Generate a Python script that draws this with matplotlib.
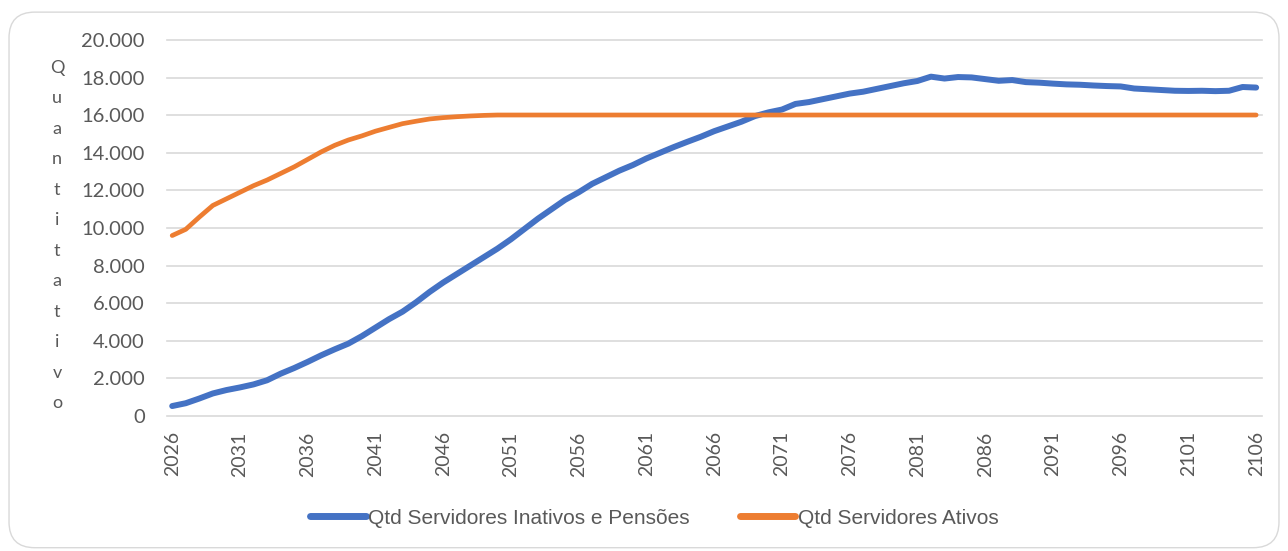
import matplotlib
matplotlib.use("Agg")
import matplotlib.pyplot as plt
from matplotlib.patches import FancyBboxPatch
import numpy as np

years = list(range(2026, 2107))

inativos = [530, 680, 930, 1200, 1380, 1520, 1680, 1900, 2250, 2550,
            2880, 3230, 3550, 3850, 4250, 4700, 5150, 5550, 6050, 6600,
            7100, 7550, 8000, 8450, 8900, 9400, 9950, 10500, 11000, 11500,
            11900, 12350, 12700, 13050, 13350, 13700, 14000, 14300, 14580, 14850,
            15150, 15400, 15650, 15950, 16150, 16300, 16600, 16700, 16850, 17000,
            17150, 17250, 17400, 17550, 17700, 17820, 18050, 17950, 18030, 18010,
            17920, 17830, 17870, 17760, 17730, 17680, 17640, 17620, 17580, 17550,
            17530, 17420, 17380, 17340, 17300, 17290, 17300, 17280, 17300, 17500,
            17470]

ativos = [9600, 9930, 10580, 11200, 11550, 11900, 12250, 12550, 12900, 13250,
          13650, 14050, 14400, 14680, 14900, 15150, 15350, 15550, 15680, 15800,
          15870, 15920, 15960, 15990, 16010] + [16010] * 56

series_names = ["Qtd Servidores Inativos e Pensões", "Qtd Servidores Ativos"]
y_ticks = list(range(0, 20001, 2000))
x_ticks = list(range(2026, 2107, 5))
ylabel = "Quantitativo"

plt.rcParams['font.family'] = ['Lato', 'DejaVu Sans']

fig = plt.figure(figsize=(12.88, 5.51), dpi=100)
border = FancyBboxPatch((0.007, 0.006), 0.986, 0.972,
                        boxstyle="round,pad=0,rounding_size=0.02",
                        transform=fig.transFigure, facecolor='white',
                        edgecolor='#D9D9D9', linewidth=1.0, zorder=-10,
                        mutation_aspect=1288/551)
fig.patches.append(border)

ax = fig.add_axes([0.1297, 0.245, 0.8503, 0.6824])
ax.set_facecolor('none')

ax.plot(years, inativos, color='#4472C4', linewidth=4.3,
        solid_capstyle='round', label=series_names[0], zorder=3)
ax.plot(years, ativos, color='#ED7D31', linewidth=3.4,
        solid_capstyle='round', label=series_names[1], zorder=3)

ax.set_ylim(0, 20000)
ax.set_xlim(2025.62, 2106.45)
ax.set_yticks(y_ticks)
ax.set_yticklabels([f"{v:,}".replace(",", ".") for v in y_ticks],
                   fontsize=14.5, color='#595959')
ax.set_xticks(x_ticks)
ax.set_xticklabels([str(v) for v in x_ticks], rotation=90,
                   fontsize=14, color='#595959')
ax.tick_params(axis='both', length=0)
ax.tick_params(axis='y', pad=16)
ax.tick_params(axis='x', pad=11)
ax.grid(axis='y', color='#D9D9D9', linewidth=1.2)
for gl in ax.get_ygridlines():
    gl.set_clip_on(False)
ax.set_axisbelow(True)
for s in ax.spines.values():
    s.set_visible(False)

# vertical stacked y label
n = len(ylabel)
top_px, bot_px = 68, 403
for i, ch in enumerate(ylabel):
    ypx = top_px + (bot_px - top_px) * i / (n - 1)
    fig.text(57 / 1288, 1 - ypx / 551, ch, ha='center', va='center',
             fontsize=13, color='#595959')

leg = fig.legend(loc='center', bbox_to_anchor=(0.508, 1 - 518 / 551),
                 ncol=2, frameon=False,
                 prop={'family': ['Liberation Sans', 'DejaVu Sans'], 'size': 15},
                 handlelength=2.65, columnspacing=2.45, handletextpad=0.1)
for t in leg.get_texts():
    t.set_color('#595959')
for line in leg.get_lines():
    line.set_linewidth(5)

fig.savefig("out.png", dpi=100)
